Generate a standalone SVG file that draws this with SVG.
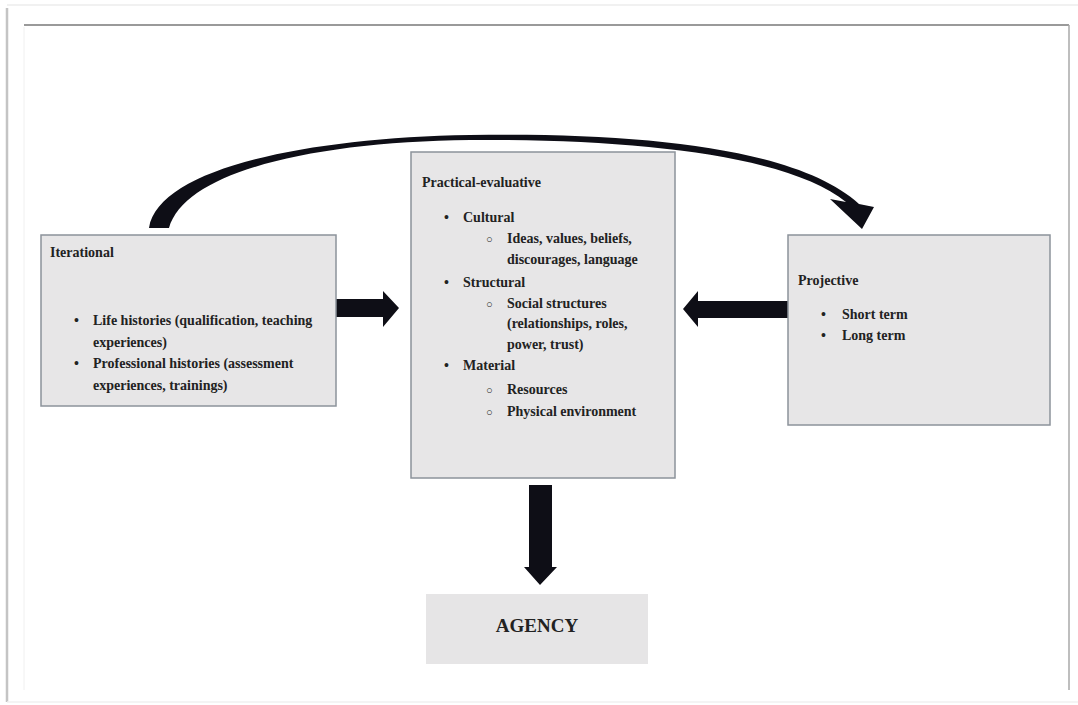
<svg xmlns="http://www.w3.org/2000/svg" width="1078" height="705" viewBox="0 0 1078 705">
<style>
.box{fill:#e7e6e7;stroke:#8c939b;stroke-width:1.5}
.t{font-family:"Liberation Serif","Times New Roman",serif;font-weight:bold;font-size:14px;fill:#222}
.c{font-size:11px}
.ag{font-size:19px}
.arr{fill:#0e0e16}
</style>
<rect width="1078" height="705" fill="#ffffff"/>
<g id="frame" fill="none">
<line x1="7" y1="5" x2="1078" y2="5" stroke="#ececec" stroke-width="1.5"/>
<line x1="7" y1="8" x2="7" y2="702" stroke="#c4c4c4" stroke-width="2.5"/>
<line x1="24" y1="25" x2="1069" y2="25" stroke="#9a9a9a" stroke-width="2"/>
<line x1="1069" y1="25" x2="1069" y2="690" stroke="#a8a8a8" stroke-width="1.5"/>
<line x1="24" y1="27" x2="24" y2="690" stroke="#f0f0f0" stroke-width="1"/>
<line x1="7" y1="702" x2="1078" y2="702" stroke="#f0f0f0" stroke-width="1.5"/>
</g>
<g id="connectors">
<path class="arr" d="M149,228 C158,170 300,138 470,135 C650,132 800,150 859,204 L874,207 L862,229 L830,199 L846,202 C790,156 640,139 470,140 C310,142 185,172 169,228 Z"/>
<path class="arr" d="M336,299 L383,299 L383,291 L399,308 L383,327 L383,317 L336,317 Z"/>
<path class="arr" d="M788,301 L698,301 L698,291 L683,309 L698,327 L698,318 L788,318 Z"/>
<path class="arr" d="M529,485 L552,485 L552,567 L557,567 L540,585 L524,567 L529,567 Z"/>
</g>
<g id="iterational">
<rect class="box" x="41" y="235" width="295" height="171"/>
<text class="t" x="50" y="257">Iterational</text>
<text class="t" x="74" y="325">•</text>
<text class="t" x="93" y="325">Life histories (qualification, teaching</text>
<text class="t" x="93" y="347">experiences)</text>
<text class="t" x="74" y="368">•</text>
<text class="t" x="93" y="368">Professional histories (assessment</text>
<text class="t" x="93" y="390">experiences, trainings)</text>
</g>
<g id="practical-evaluative">
<rect class="box" x="411" y="152" width="264" height="326"/>
<text class="t" x="422" y="187">Practical-evaluative</text>
<text class="t" x="444" y="222">•</text>
<text class="t" x="463" y="222">Cultural</text>
<text class="t c" x="486" y="243">○</text>
<text class="t" x="507" y="243">Ideas, values, beliefs,</text>
<text class="t" x="507" y="264">discourages, language</text>
<text class="t" x="444" y="287">•</text>
<text class="t" x="463" y="287">Structural</text>
<text class="t c" x="486" y="308">○</text>
<text class="t" x="507" y="308">Social structures</text>
<text class="t" x="507" y="328">(relationships, roles,</text>
<text class="t" x="507" y="349">power, trust)</text>
<text class="t" x="444" y="370">•</text>
<text class="t" x="463" y="370">Material</text>
<text class="t c" x="486" y="394">○</text>
<text class="t" x="507" y="394">Resources</text>
<text class="t c" x="486" y="416">○</text>
<text class="t" x="507" y="416">Physical environment</text>
</g>
<g id="projective">
<rect class="box" x="788" y="235" width="262" height="190"/>
<text class="t" x="798" y="285">Projective</text>
<text class="t" x="821" y="319">•</text>
<text class="t" x="842" y="319">Short term</text>
<text class="t" x="821" y="340">•</text>
<text class="t" x="842" y="340">Long term</text>
</g>
<g id="agency">
<rect x="426" y="594" width="222" height="70" fill="#e6e5e6"/>
<text class="t ag" x="537" y="632" text-anchor="middle">AGENCY</text>
</g>
</svg>
